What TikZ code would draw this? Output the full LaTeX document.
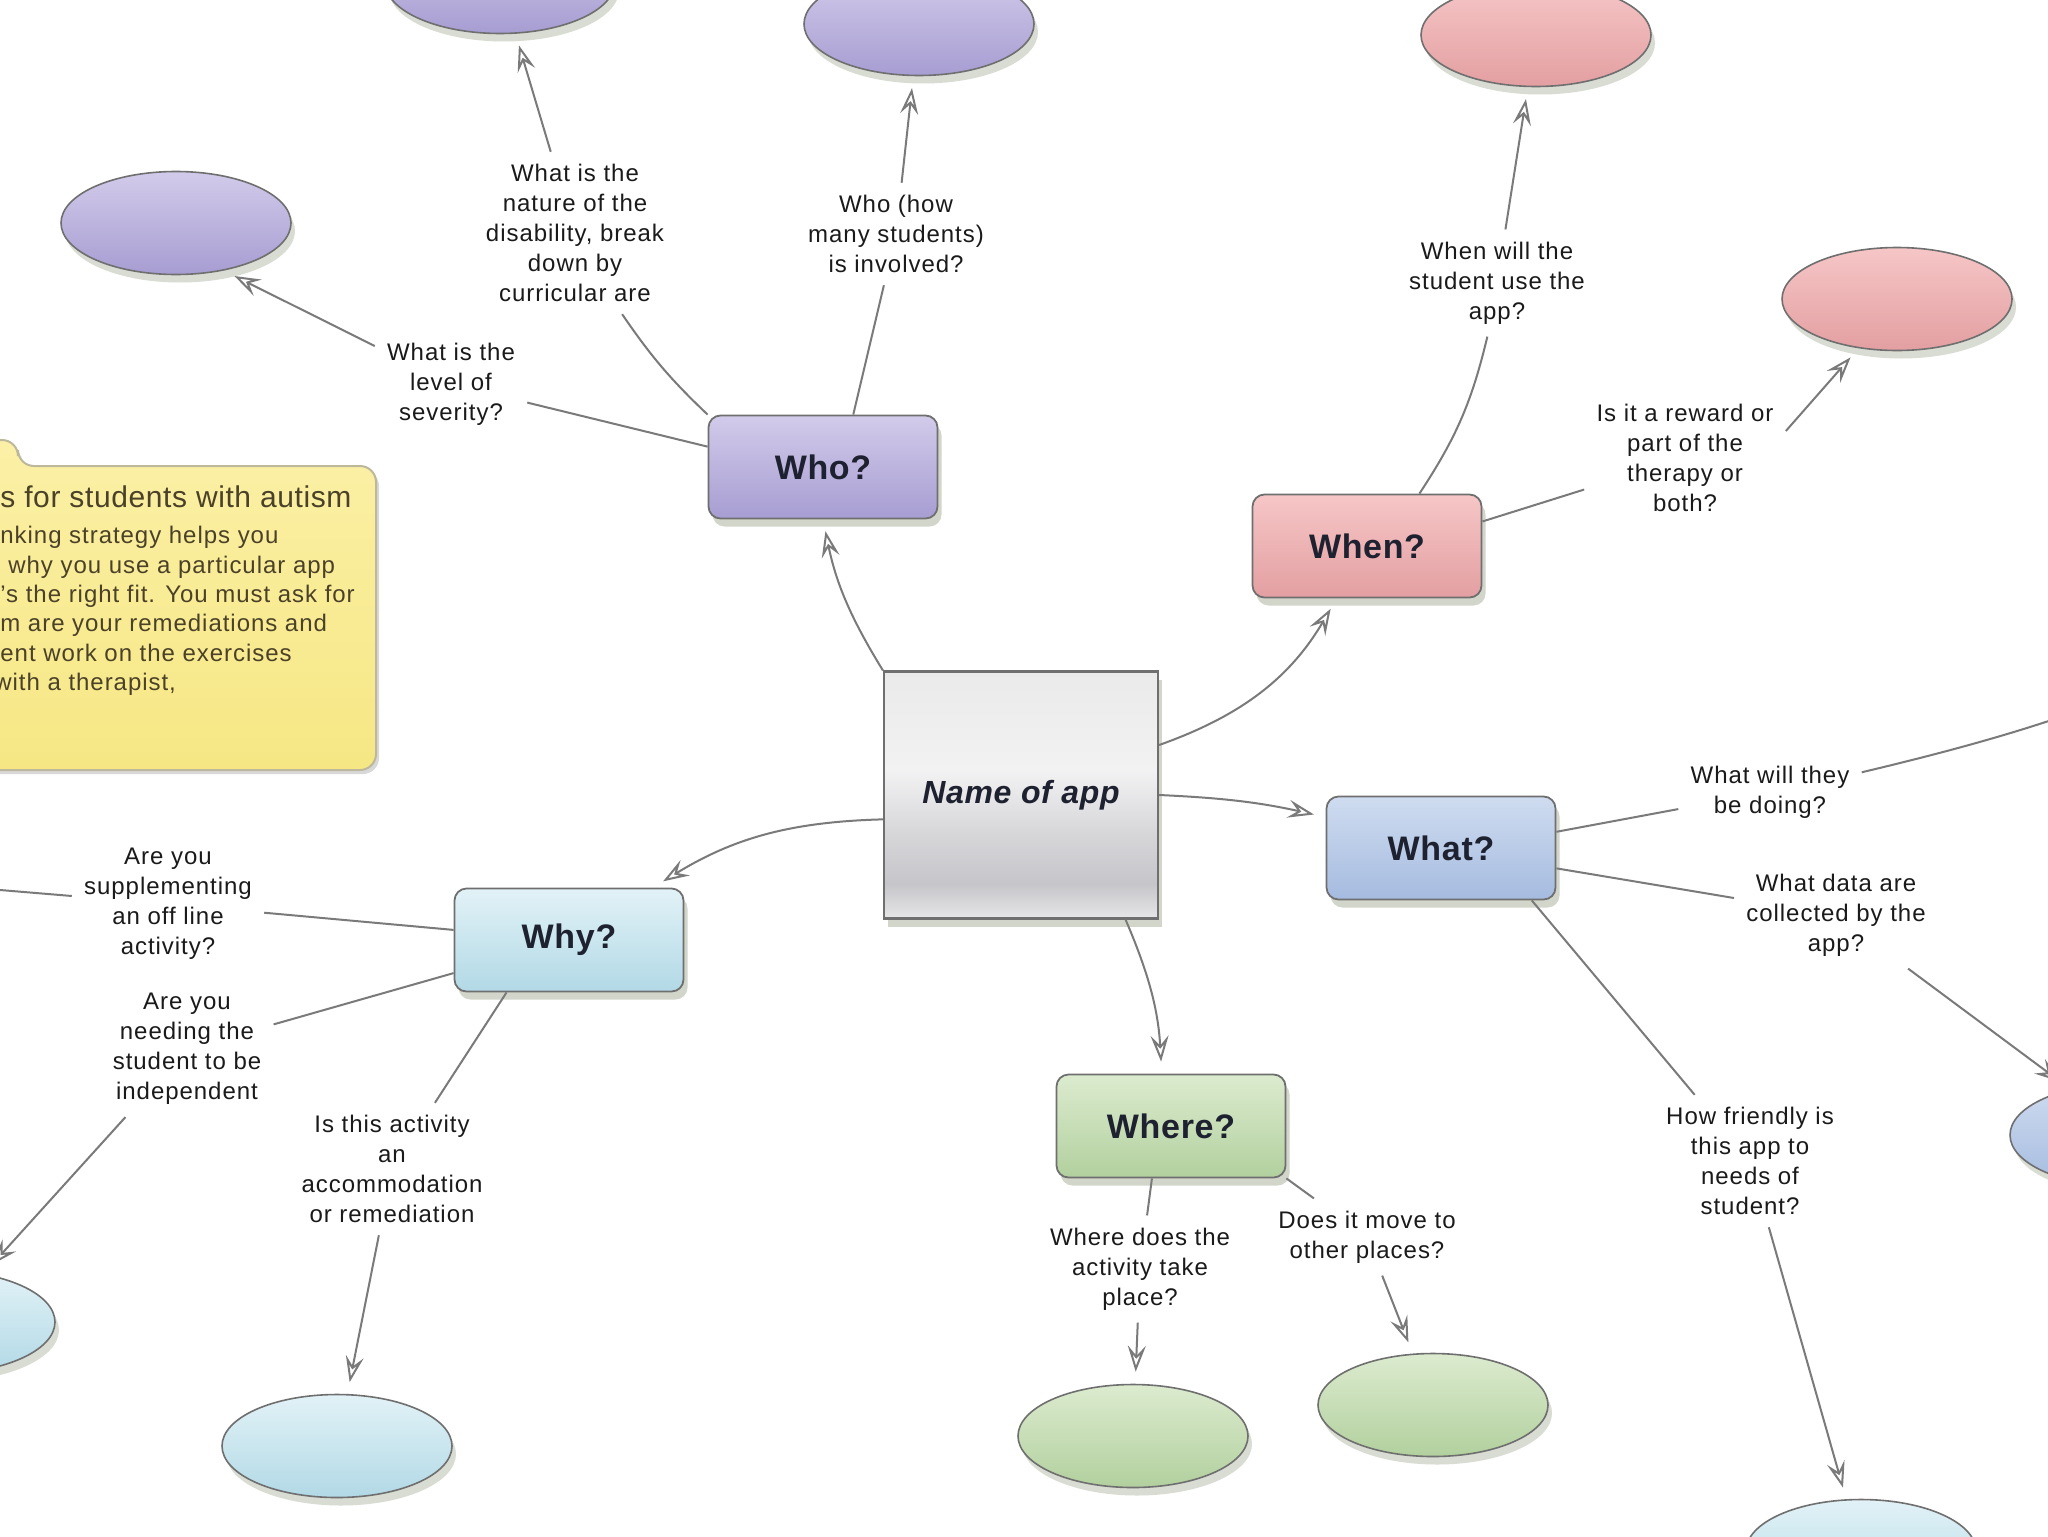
\documentclass[tikz,border=0pt]{standalone}
\usepackage{fontspec}
\setmainfont{Liberation Sans}
\newfontfamily\qfont[LetterSpace=4]{Liberation Sans}
\newfontfamily\hfont[LetterSpace=2]{Liberation Sans}
\usetikzlibrary{arrows.meta,shapes.geometric,shadows}
\definecolor{Wire}{HTML}{7A7A7A}
\definecolor{Edge}{HTML}{6F6F6F}
\definecolor{Ink}{HTML}{1A1A1A}
\definecolor{Label}{HTML}{1E2130}
\definecolor{Shade}{HTML}{7F8C6A}
\definecolor{WhoA}{HTML}{D2CBEA}
\definecolor{WhoB}{HTML}{A79DD2}
\definecolor{WhenA}{HTML}{F6C6C7}
\definecolor{WhenB}{HTML}{E39FA1}
\definecolor{WhatA}{HTML}{CFDCF0}
\definecolor{WhatB}{HTML}{A5BBDF}
\definecolor{WhyA}{HTML}{E2F2F7}
\definecolor{WhyB}{HTML}{B2D9E6}
\definecolor{WhereA}{HTML}{DCEBCF}
\definecolor{WhereB}{HTML}{B2D09E}
\definecolor{NoteA}{HTML}{FBF0A6}
\definecolor{NoteB}{HTML}{F6E784}
\definecolor{NoteEdge}{HTML}{BDB89C}
\definecolor{NoteInk}{HTML}{4A4128}
\definecolor{AppA}{HTML}{F2F2F3}
\definecolor{AppB}{HTML}{C6C6CA}
\definecolor{AppC}{HTML}{E6E6E8}
\definecolor{AppD}{HTML}{D6D6D9}
\definecolor{AppE}{HTML}{EAEAEA}
\pgfdeclareverticalshading{appshade}{100bp}{color(0bp)=(AppC); color(25bp)=(AppC);
  color(32bp)=(AppB); color(42bp)=(AppD); color(55bp)=(AppA); color(75bp)=(AppE);
  color(100bp)=(AppE)}
\tikzset{
  topic/.style={
    rectangle, rounded corners=6pt, draw=Edge, line width=0.9pt,
    minimum width=114.5pt, minimum height=51.5pt, inner sep=0pt, text=Label,
    font=\hfont\bfseries\fontsize{17}{20}\selectfont,
    drop shadow={shadow xshift=2pt, shadow yshift=-4pt, fill=Shade, opacity=.35}
  },
  appbox/.style={
    rectangle, draw=Edge, line width=1.1pt, shading=appshade,
    minimum width=137pt, minimum height=123.5pt, inner sep=0pt, text=Label,
    font=\hfont\bfseries\itshape\fontsize{16}{20}\selectfont,
    drop shadow={shadow xshift=2pt, shadow yshift=-4pt, fill=Shade, opacity=.35}
  },
  leaf/.style={
    ellipse, draw=Edge, line width=0.8pt, minimum width=115pt,
    minimum height=51.5pt, inner sep=0pt,
    drop shadow={shadow xshift=2pt, shadow yshift=-4pt, fill=Shade, opacity=.3}
  },
  question/.style={align=center, inner sep=6pt, text=Ink,
    font=\qfont\fontsize{12}{15}\selectfont},
  link/.style={draw=Wire, line width=1pt},
  arrow/.style={link, -{Stealth[open, length=13pt, width=9pt, inset=5pt]},
    shorten >=6pt},
  lilac/.style={top color=WhoA, bottom color=WhoB},
  rose/.style={top color=WhenA, bottom color=WhenB},
  steel/.style={top color=WhatA, bottom color=WhatB},
  aqua/.style={top color=WhyA, bottom color=WhyB},
  sage/.style={top color=WhereA, bottom color=WhereB},
  note/.style={draw=NoteEdge, line width=1pt, rounded corners=8pt,
    top color=NoteA, bottom color=NoteB,
    drop shadow={shadow xshift=1.5pt, shadow yshift=-2pt, fill=gray, opacity=.3}}
}
\begin{document}
\begin{tikzpicture}[x=0.5pt,y=-0.5pt]
  \useasboundingbox (0,0) rectangle (2048,1536);
  \clip (0,0) rectangle (2048,1536);
  \fill[white] (0,0) rectangle (2048,1536);

  \path[note] (-100,770) -- (-100,440) -- (18,440) -- (18,466) -- (376,466)
    -- (376,770) -- cycle;
  \node[anchor=west, inner sep=0pt, text=NoteInk,
    font=\hfont\fontsize{15}{18}\selectfont] (ntitle) at (0,497)
    {s for students with autism};
  \node[anchor=north west, inner sep=0pt, align=left, text=NoteInk,
    font=\qfont\fontsize{12}{14.7}\selectfont] (nbody) at (0,526)
    {nking strategy helps you\\
     \hspace*{4pt}why you use a particular app\\
     ’s the right fit. You must ask for\\
     m are your remediations and\\
     ent work on the exercises\\
     \hspace*{-3pt}with a therapist,};

  \node[appbox] (app) at (1021,795) {Name of app};
  \node[topic,lilac] (who) at (823,467) {Who?};
  \node[topic,rose] (when) at (1367,546) {When?};
  \node[topic,steel] (what) at (1441,848) {What?};
  \node[topic,aqua] (why) at (569,940) {Why?};
  \node[topic,sage] (where) at (1171,1126) {Where?};

  \node[leaf,lilac] (eleft) at (176,223) {};
  \node[leaf,lilac] (enature) at (500,-18) {};
  \node[leaf,lilac] (ehow) at (919,24) {};
  \node[leaf,rose] (ewhen) at (1536,35) {};
  \node[leaf,rose] (eright) at (1897,299) {};
  \node[leaf,steel] (eblue) at (2125,1135) {};
  \node[leaf,aqua] (efriendly) at (1861,1551) {};
  \node[leaf,sage] (emove) at (1433,1405) {};
  \node[leaf,sage] (eplace) at (1133,1436) {};
  \node[leaf,aqua] (eaccom) at (337,1446) {};
  \node[leaf,aqua] (ewhyleft) at (-60,1322) {};

  \node[question] (qnature) at (575,233)
    {What is the\\nature of the\\disability, break\\down by\\curricular are};
  \node[question] (qhow) at (896,234) {Who (how\\many students)\\is involved?};
  \node[question] (qlevel) at (451,384) {What is the\\level of\\severity?};
  \node[question] (qwhen) at (1497,283) {When will the\\student use the\\app?};
  \node[question] (qreward) at (1685,458)
    {Is it a reward or\\part of the\\therapy or\\both?};
  \node[question] (qdoing) at (1770,792) {What will they\\be doing?};
  \node[question] (qdata) at (1836,915) {What data are\\collected by the\\app?};
  \node[question] (qfriendly) at (1750,1161)
    {How friendly is\\this app to\\needs of\\student?};
  \node[question] (qplace) at (1140,1269) {Where does the\\activity take\\place?};
  \node[question] (qmove) at (1367,1237) {Does it move to\\other places?};
  \node[question] (qsupp) at (168,904)
    {Are you\\supplementing\\an off line\\activity?};
  \node[question] (qneed) at (187,1049)
    {Are you\\needing the\\student to be\\independent};
  \node[question] (qaccom) at (392,1169)
    {Is this activity\\an\\accommodation\\or remediation};

  \coordinate (offright) at (2230,650);
  \coordinate (offleft) at (-120,880);

  \draw[arrow] (app.north west) to[bend left=10] (who.south);
  \draw[arrow] (app.east) ++(0,-50) coordinate (appne) (appne) to[bend right=20] (when.240);
  \draw[arrow] (app.east) to[bend left=5] (what.165);
  \draw[arrow] (app.190) to[bend right=15] (why.32);
  \draw[arrow] (app.-50) to[bend left=10] (where.100);

  \draw[link] (who.north west) to[bend left=6] (qnature);
  \draw[arrow] (qnature) to (enature);
  \draw[link] (who.60) to (qhow);
  \draw[arrow] (qhow) to (ehow);
  \draw[link] (who.170) to (qlevel);
  \draw[arrow] (qlevel) to (eleft.-45);

  \draw[link] (when.45) to[bend right=10] (qwhen);
  \draw[arrow] (qwhen) to (ewhen);
  \draw[link] (when.12) to (qreward);
  \draw[arrow] (qreward.15) to (eright.-128);

  \draw[link] (what.8) to (qdoing);
  \draw[arrow] (qdoing) to[bend right=5] (offright);
  \draw[link] (what.-10) to (qdata);
  \draw[arrow] (qdata) to (eblue.140);
  \draw[link] (what.-30) to (qfriendly);
  \draw[arrow] (qfriendly) to (efriendly);

  \draw[link] (where.-110) to (qplace);
  \draw[arrow] (qplace) to (eplace);
  \draw[link] (where.south east) to (qmove);
  \draw[arrow] (qmove) to (emove);

  \draw[link] (why.175) to (qsupp);
  \draw[arrow] (qsupp) to (offleft);
  \draw[link] (why.196) to (qneed);
  \draw[arrow] (qneed) to (ewhyleft);
  \draw[link] (why.-140) to (qaccom);
  \draw[arrow] (qaccom) to (eaccom);
\end{tikzpicture}
\end{document}
